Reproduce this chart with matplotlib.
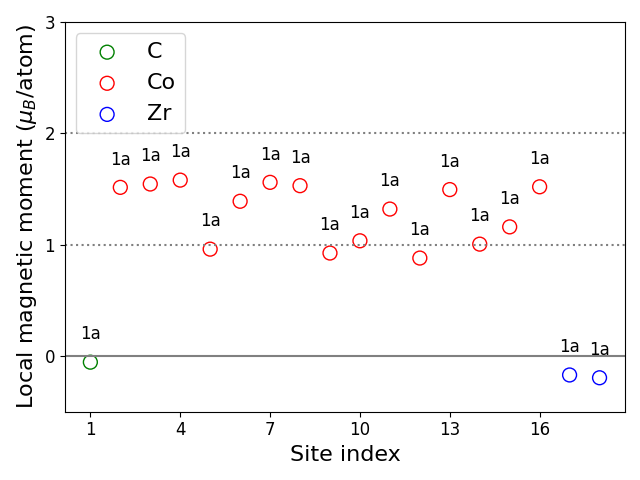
import numpy as np
import matplotlib
matplotlib.use("Agg")
import matplotlib.pyplot as plt

# site index, element and local moment (mu_B/atom)
c_sites = [1]
c_moments = [-0.055]
co_sites = list(range(2, 17))
co_moments = [1.515, 1.545, 1.58, 0.96, 1.39, 1.56, 1.53, 0.925,
              1.035, 1.32, 0.88, 1.495, 1.005, 1.16, 1.52]
zr_sites = [17, 18]
zr_moments = [-0.17, -0.195]
wyckoff = ["1a"] * 18

fig, ax = plt.subplots(figsize=(6.4, 4.8), dpi=100)

ax.axhline(0, color="gray", lw=1.5)
ax.axhline(1, color="gray", lw=1.5, ls=":")
ax.axhline(2, color="gray", lw=1.5, ls=":")

for sites, moments, color, name in [(c_sites, c_moments, "green", "C"),
                                    (co_sites, co_moments, "red", "Co"),
                                    (zr_sites, zr_moments, "blue", "Zr")]:
    ax.scatter(sites, moments, s=100, facecolors="none", edgecolors=color, label=name)

all_sites = c_sites + co_sites + zr_sites
all_moments = c_moments + co_moments + zr_moments
for x, y, lab in zip(all_sites, all_moments, wyckoff):
    ax.text(x, y + 0.25, lab, ha="center", va="center", fontsize=12)

ax.set_ylim(-0.5, 3)
ax.set_yticks([0, 1, 2, 3])
ax.set_xticks(np.arange(1, 19, 3))
ax.tick_params(labelsize=12)
ax.set_xlabel("Site index", fontsize=16)
ax.set_ylabel(r"Local magnetic moment ($\mu_B$/atom)", fontsize=16)
ax.legend(fontsize=16, loc="upper left")

fig.tight_layout()
fig.savefig("out.png")
